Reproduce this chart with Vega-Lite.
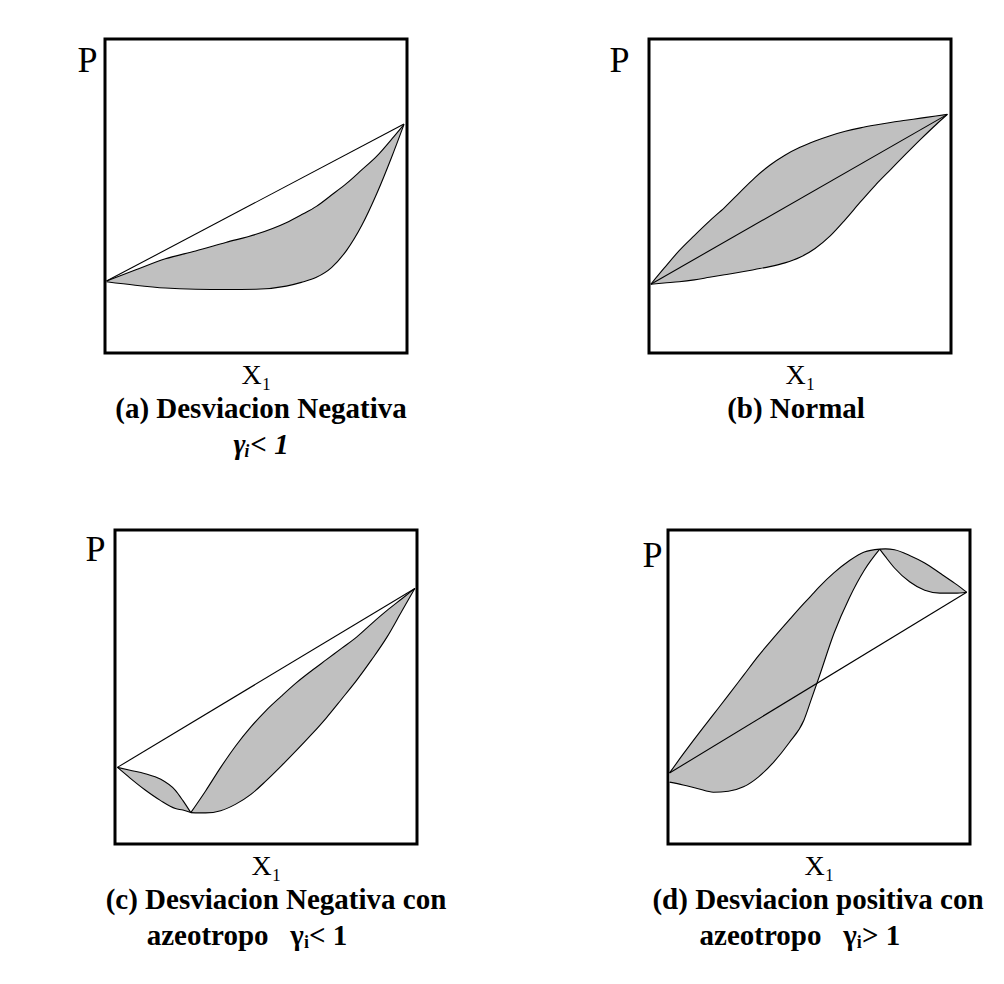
{
  "$schema": "https://vega.github.io/schema/vega-lite/v6.json",
  "background": "white",
  "padding": {"left": 75, "top": 37, "right": 5, "bottom": 5},
  "datasets": {
    "curves": [
      {"panel": "a", "lobe": 1, "x": 0.005, "hi": 0.229, "lo": 0.227},
      {"panel": "a", "lobe": 1, "x": 0.1, "hi": 0.264, "lo": 0.216},
      {"panel": "a", "lobe": 1, "x": 0.2, "hi": 0.3, "lo": 0.207},
      {"panel": "a", "lobe": 1, "x": 0.3, "hi": 0.325, "lo": 0.203},
      {"panel": "a", "lobe": 1, "x": 0.4, "hi": 0.352, "lo": 0.202},
      {"panel": "a", "lobe": 1, "x": 0.5, "hi": 0.378, "lo": 0.203},
      {"panel": "a", "lobe": 1, "x": 0.6, "hi": 0.415, "lo": 0.213},
      {"panel": "a", "lobe": 1, "x": 0.65, "hi": 0.44, "lo": 0.225},
      {"panel": "a", "lobe": 1, "x": 0.7, "hi": 0.467, "lo": 0.241},
      {"panel": "a", "lobe": 1, "x": 0.75, "hi": 0.503, "lo": 0.272},
      {"panel": "a", "lobe": 1, "x": 0.8, "hi": 0.54, "lo": 0.327},
      {"panel": "a", "lobe": 1, "x": 0.85, "hi": 0.583, "lo": 0.406},
      {"panel": "a", "lobe": 1, "x": 0.9, "hi": 0.627, "lo": 0.508},
      {"panel": "a", "lobe": 1, "x": 0.95, "hi": 0.682, "lo": 0.626},
      {"panel": "a", "lobe": 1, "x": 0.99, "hi": 0.728, "lo": 0.728},

      {"panel": "b", "lobe": 1, "x": 0.006, "hi": 0.219, "lo": 0.219},
      {"panel": "b", "lobe": 1, "x": 0.05, "hi": 0.27, "lo": 0.223},
      {"panel": "b", "lobe": 1, "x": 0.1, "hi": 0.326, "lo": 0.227},
      {"panel": "b", "lobe": 1, "x": 0.15, "hi": 0.374, "lo": 0.233},
      {"panel": "b", "lobe": 1, "x": 0.2, "hi": 0.42, "lo": 0.241},
      {"panel": "b", "lobe": 1, "x": 0.25, "hi": 0.463, "lo": 0.249},
      {"panel": "b", "lobe": 1, "x": 0.3, "hi": 0.511, "lo": 0.257},
      {"panel": "b", "lobe": 1, "x": 0.35, "hi": 0.558, "lo": 0.266},
      {"panel": "b", "lobe": 1, "x": 0.4, "hi": 0.598, "lo": 0.275},
      {"panel": "b", "lobe": 1, "x": 0.45, "hi": 0.63, "lo": 0.287},
      {"panel": "b", "lobe": 1, "x": 0.5, "hi": 0.655, "lo": 0.305},
      {"panel": "b", "lobe": 1, "x": 0.55, "hi": 0.675, "lo": 0.333},
      {"panel": "b", "lobe": 1, "x": 0.6, "hi": 0.692, "lo": 0.373},
      {"panel": "b", "lobe": 1, "x": 0.65, "hi": 0.706, "lo": 0.425},
      {"panel": "b", "lobe": 1, "x": 0.7, "hi": 0.717, "lo": 0.481},
      {"panel": "b", "lobe": 1, "x": 0.75, "hi": 0.726, "lo": 0.535},
      {"panel": "b", "lobe": 1, "x": 0.8, "hi": 0.734, "lo": 0.584},
      {"panel": "b", "lobe": 1, "x": 0.85, "hi": 0.741, "lo": 0.633},
      {"panel": "b", "lobe": 1, "x": 0.9, "hi": 0.748, "lo": 0.681},
      {"panel": "b", "lobe": 1, "x": 0.95, "hi": 0.755, "lo": 0.727},
      {"panel": "b", "lobe": 1, "x": 0.988, "hi": 0.76, "lo": 0.76},

      {"panel": "c", "lobe": 1, "x": 0.008, "hi": 0.244, "lo": 0.244},
      {"panel": "c", "lobe": 1, "x": 0.05, "hi": 0.235, "lo": 0.21},
      {"panel": "c", "lobe": 1, "x": 0.1, "hi": 0.224, "lo": 0.172},
      {"panel": "c", "lobe": 1, "x": 0.15, "hi": 0.207, "lo": 0.139},
      {"panel": "c", "lobe": 1, "x": 0.2, "hi": 0.171, "lo": 0.113},
      {"panel": "c", "lobe": 1, "x": 0.225, "hi": 0.138, "lo": 0.108},
      {"panel": "c", "lobe": 1, "x": 0.251, "hi": 0.1, "lo": 0.1},
      {"panel": "c", "lobe": 2, "x": 0.251, "hi": 0.1, "lo": 0.1},
      {"panel": "c", "lobe": 2, "x": 0.3, "hi": 0.169, "lo": 0.099},
      {"panel": "c", "lobe": 2, "x": 0.35, "hi": 0.244, "lo": 0.106},
      {"panel": "c", "lobe": 2, "x": 0.4, "hi": 0.313, "lo": 0.127},
      {"panel": "c", "lobe": 2, "x": 0.45, "hi": 0.373, "lo": 0.158},
      {"panel": "c", "lobe": 2, "x": 0.5, "hi": 0.425, "lo": 0.201},
      {"panel": "c", "lobe": 2, "x": 0.55, "hi": 0.47, "lo": 0.248},
      {"panel": "c", "lobe": 2, "x": 0.6, "hi": 0.513, "lo": 0.297},
      {"panel": "c", "lobe": 2, "x": 0.65, "hi": 0.551, "lo": 0.348},
      {"panel": "c", "lobe": 2, "x": 0.7, "hi": 0.587, "lo": 0.402},
      {"panel": "c", "lobe": 2, "x": 0.75, "hi": 0.623, "lo": 0.461},
      {"panel": "c", "lobe": 2, "x": 0.8, "hi": 0.659, "lo": 0.521},
      {"panel": "c", "lobe": 2, "x": 0.85, "hi": 0.702, "lo": 0.587},
      {"panel": "c", "lobe": 2, "x": 0.9, "hi": 0.743, "lo": 0.658},
      {"panel": "c", "lobe": 2, "x": 0.95, "hi": 0.781, "lo": 0.742},
      {"panel": "c", "lobe": 2, "x": 0.993, "hi": 0.814, "lo": 0.814},

      {"panel": "d", "lobe": 1, "x": 0.005, "hi": 0.226, "lo": 0.197},
      {"panel": "d", "lobe": 1, "x": 0.05, "hi": 0.286, "lo": 0.188},
      {"panel": "d", "lobe": 1, "x": 0.1, "hi": 0.35, "lo": 0.176},
      {"panel": "d", "lobe": 1, "x": 0.15, "hi": 0.412, "lo": 0.165},
      {"panel": "d", "lobe": 1, "x": 0.2, "hi": 0.474, "lo": 0.168},
      {"panel": "d", "lobe": 1, "x": 0.25, "hi": 0.537, "lo": 0.182},
      {"panel": "d", "lobe": 1, "x": 0.3, "hi": 0.6, "lo": 0.214},
      {"panel": "d", "lobe": 1, "x": 0.35, "hi": 0.657, "lo": 0.261},
      {"panel": "d", "lobe": 1, "x": 0.4, "hi": 0.712, "lo": 0.321},
      {"panel": "d", "lobe": 1, "x": 0.45, "hi": 0.766, "lo": 0.394},
      {"panel": "d", "lobe": 1, "x": 0.475, "hi": 0.792, "lo": 0.462},
      {"panel": "d", "lobe": 1, "x": 0.5, "hi": 0.818, "lo": 0.531},
      {"panel": "d", "lobe": 1, "x": 0.55, "hi": 0.864, "lo": 0.672},
      {"panel": "d", "lobe": 1, "x": 0.6, "hi": 0.902, "lo": 0.783},
      {"panel": "d", "lobe": 1, "x": 0.65, "hi": 0.93, "lo": 0.872},
      {"panel": "d", "lobe": 1, "x": 0.701, "hi": 0.939, "lo": 0.939},
      {"panel": "d", "lobe": 2, "x": 0.701, "hi": 0.939, "lo": 0.939},
      {"panel": "d", "lobe": 2, "x": 0.72, "hi": 0.94, "lo": 0.915},
      {"panel": "d", "lobe": 2, "x": 0.75, "hi": 0.937, "lo": 0.879},
      {"panel": "d", "lobe": 2, "x": 0.8, "hi": 0.919, "lo": 0.835},
      {"panel": "d", "lobe": 2, "x": 0.85, "hi": 0.895, "lo": 0.808},
      {"panel": "d", "lobe": 2, "x": 0.9, "hi": 0.863, "lo": 0.799},
      {"panel": "d", "lobe": 2, "x": 0.95, "hi": 0.83, "lo": 0.799},
      {"panel": "d", "lobe": 2, "x": 0.989, "hi": 0.802, "lo": 0.802}
    ],
    "chords": [
      {"panel": "a", "x": 0.005, "y": 0.229},
      {"panel": "a", "x": 0.99, "y": 0.729},
      {"panel": "b", "x": 0.006, "y": 0.219},
      {"panel": "b", "x": 0.988, "y": 0.76},
      {"panel": "c", "x": 0.008, "y": 0.244},
      {"panel": "c", "x": 0.993, "y": 0.814},
      {"panel": "d", "x": 0.005, "y": 0.226},
      {"panel": "d", "x": 0.989, "y": 0.802}
    ]
  },
  "config": {
    "view": {"stroke": "black", "strokeWidth": 3},
    "axis": {"labels": false, "ticks": false, "domain": false, "grid": false, "titleFont": "Liberation Serif", "titleFontWeight": "normal", "titleColor": "black"},
    "axisX": {"titleFontSize": 28, "titlePadding": 8},
    "axisY": {"titleFontSize": 36, "titleAngle": 0, "titleAlign": "right", "titleBaseline": "alphabetic"},
    "title": {"orient": "bottom", "anchor": "middle", "frame": "group", "font": "Liberation Serif", "fontSize": 29, "fontWeight": "bold", "color": "black", "subtitleFont": "Liberation Serif", "subtitleFontSize": 29, "subtitleFontWeight": "bold", "subtitleColor": "black", "offset": 6, "subtitlePadding": 7},
    "line": {"color": "black", "strokeWidth": 1.1, "interpolate": "monotone"},
    "area": {"fill": "#c0c0c0", "interpolate": "monotone"}
  },
  "spacing": 66,
  "vconcat": [
    {
      "spacing": 242,
      "bounds": "flush",
      "hconcat": [
        {
          "width": 302, "height": 314,
          "title": {"text": "(a) Desviacion Negativa", "subtitle": "γᵢ< 1", "font": "Liberation Serif", "subtitleFont": "Liberation Serif", "subtitleFontStyle": "italic", "dx": 5},
          "layer": [
            {"data": {"name": "curves"}, "transform": [{"filter": "datum.panel === 'a'"}], "mark": "area",
             "encoding": {"x": {"field": "x", "type": "quantitative", "title": "X₁", "scale": {"domain": [0, 1], "nice": false}},
                          "y": {"field": "lo", "type": "quantitative", "title": "P", "scale": {"domain": [0, 1], "nice": false}, "axis": {"titleX": -8, "titleY": 32}},
                          "y2": {"field": "hi"}, "detail": {"field": "lobe"}}},
            {"data": {"name": "curves"}, "transform": [{"filter": "datum.panel === 'a'"}], "mark": "line",
             "encoding": {"x": {"field": "x", "type": "quantitative", "title": "X₁"}, "y": {"field": "lo", "type": "quantitative", "title": "P"}, "detail": {"field": "lobe"}}},
            {"data": {"name": "curves"}, "transform": [{"filter": "datum.panel === 'a'"}], "mark": "line",
             "encoding": {"x": {"field": "x", "type": "quantitative", "title": "X₁"}, "y": {"field": "hi", "type": "quantitative", "title": "P"}, "detail": {"field": "lobe"}}},
            {"data": {"name": "chords"}, "transform": [{"filter": "datum.panel === 'a'"}], "mark": {"type": "line", "interpolate": "linear"},
             "encoding": {"x": {"field": "x", "type": "quantitative", "title": "X₁"}, "y": {"field": "y", "type": "quantitative", "title": "P"}}}
          ]
        },
        {
          "width": 302, "height": 314,
          "title": {"text": "(b) Normal", "font": "Liberation Serif", "dx": -4},
          "layer": [
            {"data": {"name": "curves"}, "transform": [{"filter": "datum.panel === 'b'"}], "mark": "area",
             "encoding": {"x": {"field": "x", "type": "quantitative", "title": "X₁", "scale": {"domain": [0, 1], "nice": false}},
                          "y": {"field": "lo", "type": "quantitative", "title": "P", "scale": {"domain": [0, 1], "nice": false}, "axis": {"titleX": -20, "titleY": 32}},
                          "y2": {"field": "hi"}, "detail": {"field": "lobe"}}},
            {"data": {"name": "curves"}, "transform": [{"filter": "datum.panel === 'b'"}], "mark": "line",
             "encoding": {"x": {"field": "x", "type": "quantitative", "title": "X₁"}, "y": {"field": "lo", "type": "quantitative", "title": "P"}, "detail": {"field": "lobe"}}},
            {"data": {"name": "curves"}, "transform": [{"filter": "datum.panel === 'b'"}], "mark": "line",
             "encoding": {"x": {"field": "x", "type": "quantitative", "title": "X₁"}, "y": {"field": "hi", "type": "quantitative", "title": "P"}, "detail": {"field": "lobe"}}},
            {"data": {"name": "chords"}, "transform": [{"filter": "datum.panel === 'b'"}], "mark": {"type": "line", "interpolate": "linear"},
             "encoding": {"x": {"field": "x", "type": "quantitative", "title": "X₁"}, "y": {"field": "y", "type": "quantitative", "title": "P"}}}
          ]
        }
      ]
    },
    {
      "spacing": 0,
      "bounds": "flush",
      "hconcat": [
        {"width": 10, "height": 314, "view": {"stroke": null}, "data": {"values": []}, "mark": "point"},
        {
          "width": 302, "height": 314,
          "title": {"text": "(c) Desviacion Negativa con", "subtitle": "azeotropo\u00a0\u00a0\u00a0γᵢ< 1\u00a0\u00a0\u00a0\u00a0\u00a0\u00a0\u00a0\u00a0\u200b", "font": "Liberation Serif", "subtitleFont": "Liberation Serif", "dx": 10},
          "layer": [
            {"data": {"name": "curves"}, "transform": [{"filter": "datum.panel === 'c'"}], "mark": "area",
             "encoding": {"x": {"field": "x", "type": "quantitative", "title": "X₁", "scale": {"domain": [0, 1], "nice": false}},
                          "y": {"field": "lo", "type": "quantitative", "title": "P", "scale": {"domain": [0, 1], "nice": false}, "axis": {"titleX": -10, "titleY": 30}},
                          "y2": {"field": "hi"}, "detail": {"field": "lobe"}}},
            {"data": {"name": "curves"}, "transform": [{"filter": "datum.panel === 'c'"}], "mark": "line",
             "encoding": {"x": {"field": "x", "type": "quantitative", "title": "X₁"}, "y": {"field": "lo", "type": "quantitative", "title": "P"}, "detail": {"field": "lobe"}}},
            {"data": {"name": "curves"}, "transform": [{"filter": "datum.panel === 'c'"}], "mark": "line",
             "encoding": {"x": {"field": "x", "type": "quantitative", "title": "X₁"}, "y": {"field": "hi", "type": "quantitative", "title": "P"}, "detail": {"field": "lobe"}}},
            {"data": {"name": "chords"}, "transform": [{"filter": "datum.panel === 'c'"}], "mark": {"type": "line", "interpolate": "linear"},
             "encoding": {"x": {"field": "x", "type": "quantitative", "title": "X₁"}, "y": {"field": "y", "type": "quantitative", "title": "P"}}}
          ]
        },
        {"width": 251, "height": 314, "view": {"stroke": null}, "data": {"values": []}, "mark": "point"},
        {
          "width": 302, "height": 314,
          "title": {"text": "(d) Desviacion positiva con", "subtitle": "azeotropo\u00a0\u00a0\u00a0γᵢ> 1\u00a0\u00a0\u00a0\u00a0\u00a0\u200b", "font": "Liberation Serif", "subtitleFont": "Liberation Serif", "dx": -1},
          "layer": [
            {"data": {"name": "curves"}, "transform": [{"filter": "datum.panel === 'd'"}], "mark": "area",
             "encoding": {"x": {"field": "x", "type": "quantitative", "title": "X₁", "scale": {"domain": [0, 1], "nice": false}},
                          "y": {"field": "lo", "type": "quantitative", "title": "P", "scale": {"domain": [0, 1], "nice": false}, "axis": {"titleX": -6, "titleY": 36}},
                          "y2": {"field": "hi"}, "detail": {"field": "lobe"}}},
            {"data": {"name": "curves"}, "transform": [{"filter": "datum.panel === 'd'"}], "mark": "line",
             "encoding": {"x": {"field": "x", "type": "quantitative", "title": "X₁"}, "y": {"field": "lo", "type": "quantitative", "title": "P"}, "detail": {"field": "lobe"}}},
            {"data": {"name": "curves"}, "transform": [{"filter": "datum.panel === 'd'"}], "mark": "line",
             "encoding": {"x": {"field": "x", "type": "quantitative", "title": "X₁"}, "y": {"field": "hi", "type": "quantitative", "title": "P"}, "detail": {"field": "lobe"}}},
            {"data": {"name": "chords"}, "transform": [{"filter": "datum.panel === 'd'"}], "mark": {"type": "line", "interpolate": "linear"},
             "encoding": {"x": {"field": "x", "type": "quantitative", "title": "X₁"}, "y": {"field": "y", "type": "quantitative", "title": "P"}}}
          ]
        }
      ]
    }
  ]
}
